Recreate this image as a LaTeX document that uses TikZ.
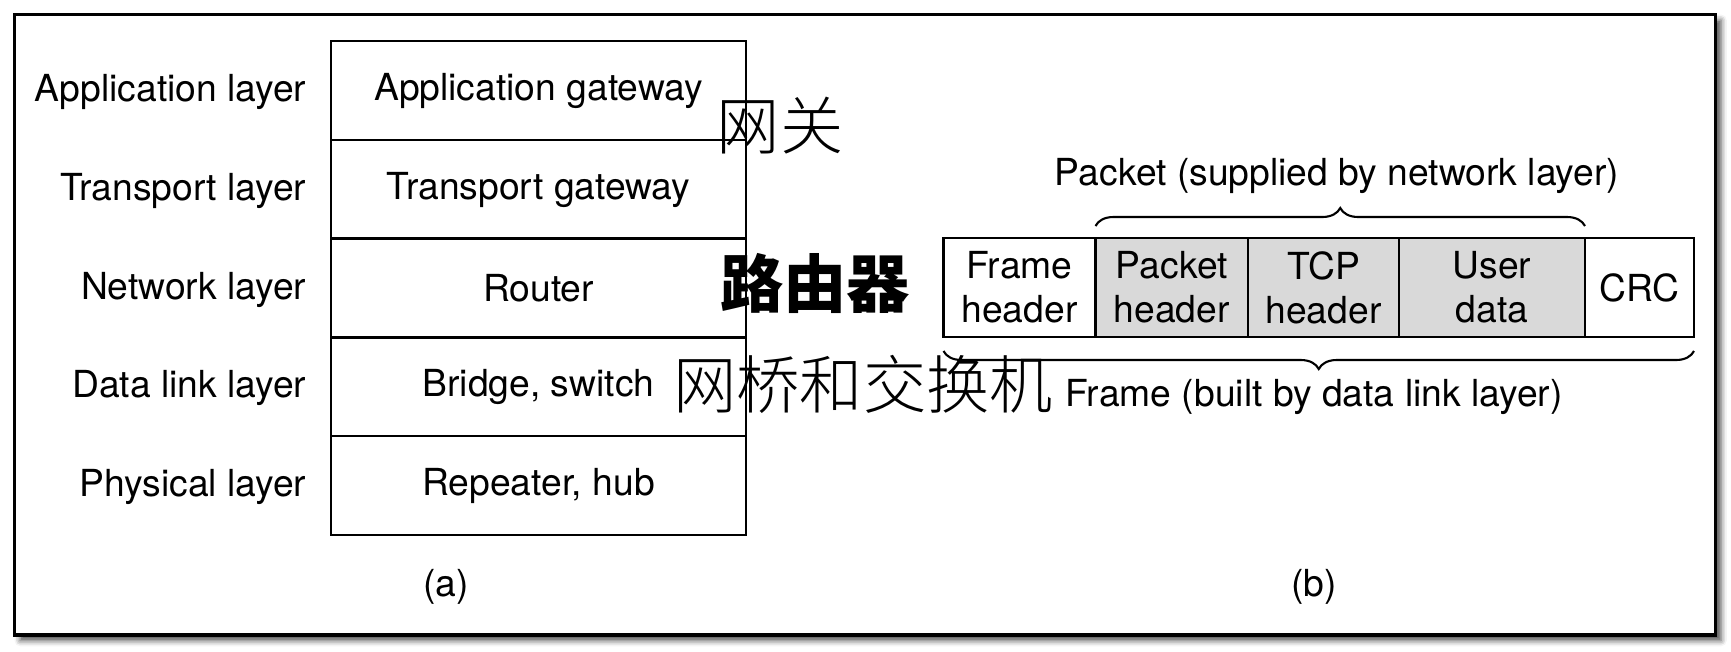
\documentclass[tikz,border=0pt]{standalone}
\usepackage{fontspec}
\setmainfont{TeX Gyre Heros}
\newfontfamily\cjk{Noto Sans CJK SC}[UprightFont=* Light, BoldFont=* Black]
\usetikzlibrary{decorations.pathreplacing}
\usetikzlibrary{shadows.blur}

\tikzset{
  cell/.style={draw, line width=0.6pt, minimum height=0.99cm, inner sep=0pt, outer sep=0pt, align=center},
  hdr/.style={cell, fill=black!15},
  layer/.style={anchor=east, inner sep=0pt},
  zh/.style={font=\cjk\fontsize{18}{20}\selectfont, inner sep=0pt},
  curly/.style={decorate, line width=0.6pt, decoration={brace, amplitude=0.18cm}},
}

\begin{document}
\begin{tikzpicture}[font=\fontsize{10.6}{12.6}\selectfont]

\useasboundingbox (0,0) rectangle (17.31,6.51);
\draw[line width=1pt, fill=white, blur shadow={shadow xshift=1.6pt, shadow yshift=-1.6pt, shadow blur radius=1.6pt, shadow opacity=70}]
  (0.145,0.16) rectangle (17.155,6.365);

% (a) layers and devices
\begin{scope}[cell/.append style={minimum width=4.15cm}]
\node[cell] (app) at (5.385,5.605) {Application gateway};
\node[cell] (trans) at (5.385,4.615) {Transport gateway};
\node[cell] (net) at (5.385,3.63) {Router};
\node[cell] (link) at (5.385,2.645) {Bridge, switch};
\node[cell] (phys) at (5.385,1.655) {Repeater, hub};
\end{scope}

\node[layer] (appl) at (3.07,5.59) {Application layer};
\node[layer] (transl) at (3.07,4.60) {Transport layer};
\node[layer] (netl) at (3.07,3.615) {Network layer};
\node[layer] (linkl) at (3.07,2.63) {Data link layer};
\node[layer] (physl) at (3.07,1.64) {Physical layer};

\node (capa) at (4.46,0.64) {(a)};

% (b) frame
\node[cell, minimum width=1.52cm] (fhdr) at (10.195,3.635) {Frame\\header};
\node[hdr, minimum width=1.525cm] (phdr) at (11.7175,3.635) {Packet\\header};
\node[hdr, minimum width=1.51cm] (thdr) at (13.235,3.635) {TCP\\header};
\node[hdr, minimum width=1.86cm] (udata) at (14.92,3.635) {User\\data};
\node[cell, minimum width=1.09cm] (crc) at (16.395,3.635) {CRC};

\draw[curly] ([yshift=0.12cm]phdr.north west) -- ([yshift=0.12cm]udata.north east);
\draw[curly] ([yshift=-0.14cm]crc.south east) -- ([yshift=-0.14cm]fhdr.south west);

\node (pktlbl) at (13.37,4.75) {Packet (supplied by network layer)};
\node (frmlbl) at (13.14,2.54) {Frame (built by data link layer)};

\node (capb) at (13.14,0.64) {(b)};

% notes
\node[zh] (gw) at (7.80,5.25) {网关};
\node[zh, font=\cjk\bfseries\fontsize{18}{20}\selectfont] (rt) at (8.15,3.68) {路由器};
\node[zh] (br) at (8.63,2.67) {网桥和交换机};

\end{tikzpicture}
\end{document}
